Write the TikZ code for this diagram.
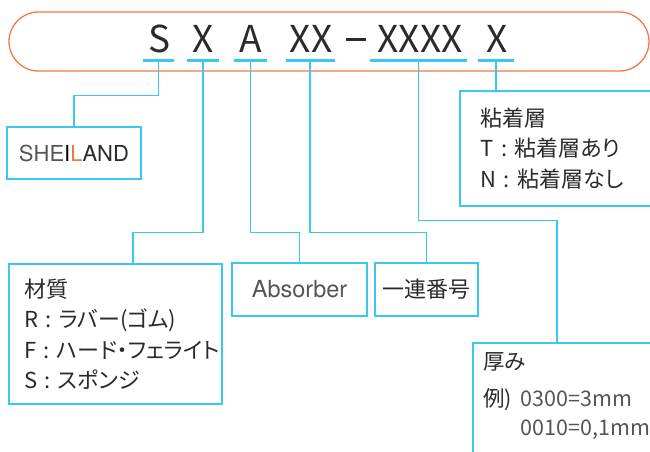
\documentclass[tikz,border=0pt]{standalone}
\usepackage{fontspec}
\setmainfont{TeX Gyre Heros}
\newfontfamily\jpfont[RawFeature=+palt]{Noto Sans CJK JP}
\usetikzlibrary{positioning}
\definecolor{lineblue}{HTML}{3CC8EE}
\definecolor{frameorange}{HTML}{F07848}
\definecolor{inkgray}{HTML}{2A2A2A}
\definecolor{softgray}{HTML}{555555}

\begin{document}
\begin{tikzpicture}[x=1pt,y=-1pt,
		code/.style={anchor=base, inner sep=0pt, text=inkgray, font=\jpfont\fontsize{37}{40}\selectfont},
		uline/.style={fill=lineblue, inner sep=0pt, minimum height=3pt},
		conn/.style={draw=lineblue, line width=1.3pt},
		box/.style={draw=lineblue, line width=1.5pt, inner sep=0pt},
		jtext/.style={text=inkgray, font=\jpfont\fontsize{22}{30.5}\selectfont}]
		\useasboundingbox (0,0) rectangle (650,451);
		% code line
		\node[draw=frameorange, line width=1.3pt, rounded corners=29.5pt, minimum width=640pt, minimum height=59pt] (frame) at (329,41.5) {};
		\node[code] (cS) at (160,52) {S};
		\node[code] (cX) at (203,52) {X};
		\node[code] (cA) at (251,52) {A};
		\node[code] (cXX) at (311,52) {XX};
		\node[code] (cdash) at (356,52) {\rule[11pt]{20pt}{3.5pt}};
		\node[code] (cXXXX) at (420,52) {XXXX};
		\node[code] (cT) at (497,52) {X};
		\node[uline, minimum width=31pt] (uS) at (158.5,60) {};
		\node[uline, minimum width=32pt] (uX) at (203,60) {};
		\node[uline, minimum width=33pt] (uA) at (250.5,60) {};
		\node[uline, minimum width=49pt] (uXX) at (310,60) {};
		\node[uline, minimum width=97pt] (uXXXX) at (418.5,60) {};
		\node[uline, minimum width=36pt] (uT) at (496,60) {};
		% boxes
		\node[box, minimum width=134pt, minimum height=52pt, font=\fontsize{22}{24}\selectfont] (brand) at (74,153)
			{{\color{softgray}SHE}{\color{black}I}{\color{frameorange}L}{\color{inkgray}AND}};
		\node[box, jtext, minimum width=213pt, minimum height=140pt, inner xsep=15pt, text width=183pt, align=left] (mat) at (115.5,334)
			{材質\\R~:~ラバー(ゴム)\\F~:~ハード・フェライト\\S~:~スポンジ};
		\node[box, minimum width=135pt, minimum height=53pt, text=softgray, font=\fontsize{23.5}{25}\selectfont] (absorb) at (299.5,289.5) {Absorber};
		\node[box, jtext, minimum width=103pt, minimum height=53pt] (serial) at (426.5,289.5) {一連番号};
		\node[box, jtext, anchor=north west, minimum width=206pt, minimum height=115pt, inner xsep=21pt, text width=164pt, align=left] (adh) at (459,90)
			{粘着層\\T~:~粘着層あり\\N~:~粘着層なし};
		\node[box, anchor=north west, minimum width=200pt, minimum height=130pt] (thick) at (472,342) {};
		\node[jtext, anchor=north west, inner sep=0pt, align=left, font=\jpfont\fontsize{21.5}{29}\selectfont] (thicktxt) at (483,352)
			{厚み\\[8pt]例)\hspace{9pt}{\color{softgray}0300=3mm}\\\hphantom{例)}\hspace{9pt}{\color{softgray}0010=0,1mm}};
		% connectors
		\draw[conn] (uS.south) -- ++(0,34) -| (brand.north);
		\draw[conn] (uX.south) -- ++(0,171) -| ([xshift=17.5pt]mat.north);
		\draw[conn] (uA.south) -- ++(0,171) -| (absorb.north);
		\draw[conn] (uXX.south) -- ++(0,171) -| (serial.north);
		\draw[conn] (uXXXX.south) -- ++(0,159) -| ([xshift=85pt]thick.north west);
		\draw[conn] (uT.south) -- (uT.south |- adh.north);
	\end{tikzpicture}
\end{document}
